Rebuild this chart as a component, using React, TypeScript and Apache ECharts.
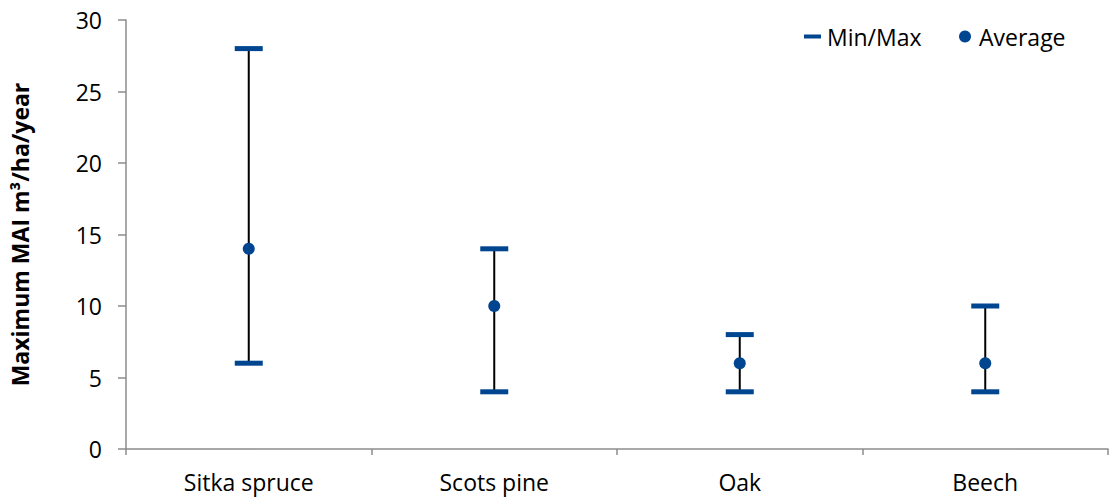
import React, { useEffect, useRef } from "react";
import * as echarts from "echarts";

const categories = ["Sitka spruce", "Scots pine", "Oak", "Beech"];
const minValues = [6, 4, 4, 4];
const maxValues = [28, 14, 8, 10];
const avgValues = [14, 10, 6, 6];
const yTicks = { min: 0, max: 30, interval: 5 };

const BLUE = "#00458F";
const FONT = "Open Sans";
const FS = 23;

export default function App() {
  const ref = useRef<HTMLDivElement>(null);
  useEffect(() => {
    if (!ref.current) return;
    document.body.style.margin = "0";
    const chart = echarts.init(ref.current, undefined, { renderer: "svg" });
    const minMaxData: [number, number][] = [];
    categories.forEach((_, i) => {
      minMaxData.push([i, minValues[i]]);
      minMaxData.push([i, maxValues[i]]);
    });
    chart.setOption({
      animation: false,
      textStyle: { fontFamily: FONT },
      grid: { left: 125, right: 7, top: 20, bottom: 49, containLabel: false },
      legend: [
        {
          data: [{ name: "Min/Max", icon: "rect" }],
          left: 804,
          top: 25,
          padding: 0,
          itemWidth: 17,
          itemHeight: 4,
          textStyle: { fontSize: FS, color: "#000", fontFamily: FONT, padding: [0, 0, 0, 1] },
        },
        {
          data: [{ name: "Average", icon: "circle" }],
          left: 959,
          top: 25,
          padding: 0,
          itemWidth: 12,
          itemHeight: 12,
          textStyle: { fontSize: FS, color: "#000", fontFamily: FONT, padding: [0, 0, 0, 3] },
        },
      ],
      xAxis: {
        type: "category",
        data: categories,
        boundaryGap: true,
        axisLine: { lineStyle: { color: "#8c8c8c", width: 1.5 } },
        axisTick: { show: true, length: 6, lineStyle: { color: "#8c8c8c", width: 1.5 } },
        axisLabel: { color: "#000", fontSize: FS, margin: 21, fontFamily: FONT },
        splitLine: { show: false },
      },
      yAxis: {
        type: "value",
        min: yTicks.min,
        max: yTicks.max,
        interval: yTicks.interval,
        name: "Maximum MAI m³/ha/year",
        nameLocation: "middle",
        nameGap: 95,
        nameTextStyle: { fontSize: FS, fontWeight: "bold", color: "#000", fontFamily: FONT },
        axisLine: { show: true, lineStyle: { color: "#8c8c8c", width: 1.5 } },
        axisTick: { show: true, length: 8, lineStyle: { color: "#8c8c8c", width: 1.5 } },
        axisLabel: { color: "#000", fontSize: FS, margin: 24, fontFamily: FONT },
        splitLine: { show: false },
      },
      series: [
        {
          type: "custom",
          name: "range",
          silent: true,
          data: categories.map((_, i) => [i, minValues[i], maxValues[i]]),
          renderItem: (params: any, api: any) => {
            const p1 = api.coord([api.value(0), api.value(1)]);
            const p2 = api.coord([api.value(0), api.value(2)]);
            return {
              type: "line",
              shape: { x1: p1[0], y1: p1[1], x2: p2[0], y2: p2[1] },
              style: { stroke: "#000", lineWidth: 2 },
            };
          },
          z: 1,
        },
        {
          type: "scatter",
          name: "Min/Max",
          symbol: "rect",
          symbolSize: [28, 5],
          itemStyle: { color: BLUE, opacity: 1 },
          data: minMaxData,
          z: 3,
        },
        {
          type: "scatter",
          name: "Average",
          symbol: "circle",
          symbolSize: 12,
          itemStyle: { color: BLUE, opacity: 1 },
          data: categories.map((_, i) => [i, avgValues[i]]),
          z: 4,
        },
      ],
    });
    return () => chart.dispose();
  }, []);
  return <div ref={ref} style={{ width: 1115, height: 498 }} />;
}
